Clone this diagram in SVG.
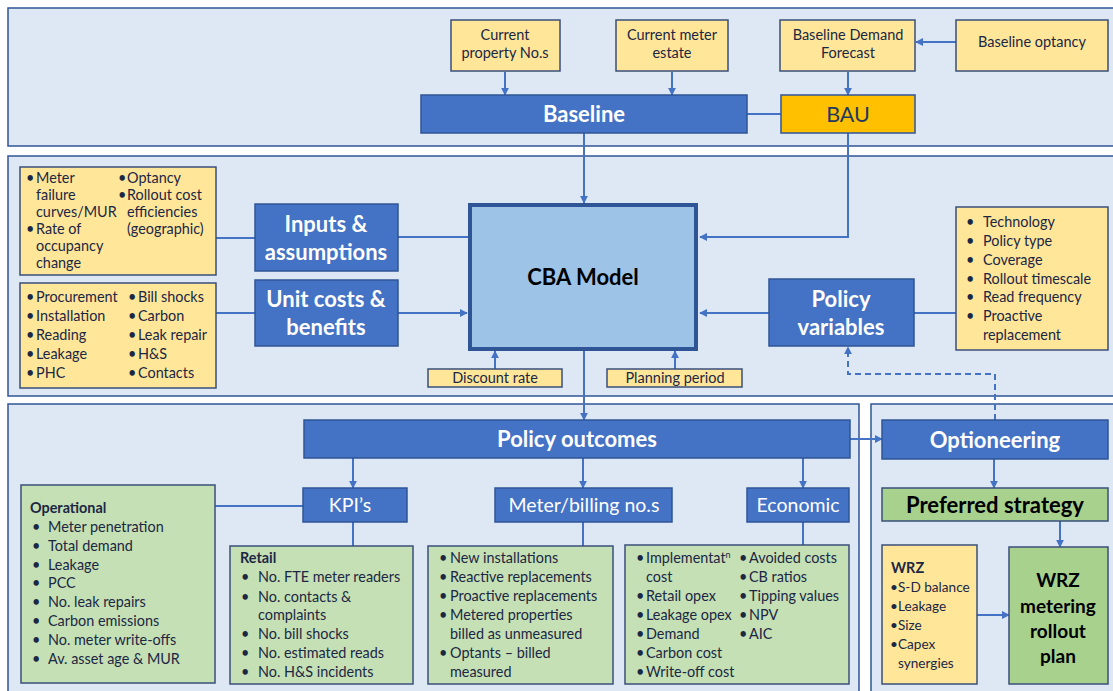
<svg xmlns="http://www.w3.org/2000/svg" width="1113" height="691" viewBox="0 0 1113 691">
<defs>
<marker id="ah" viewBox="0 0 10 10" refX="9" refY="5" markerWidth="4" markerHeight="4" orient="auto-start-reverse" markerUnits="strokeWidth">
<path d="M0,0 L10,5 L0,10 z" fill="#4472C4"/>
</marker>
</defs>
<style>
.panel{fill:#DEE8F4;stroke:#2F5597;stroke-width:1.5}
.yel{fill:#FFE699;stroke:#3A4F7A;stroke-width:1.5}
.blue{fill:#4472C4;stroke:#2F5597;stroke-width:1.5}
.grn{fill:#C5E0B4;stroke:#3A4F7A;stroke-width:1.5}
.grn2{fill:#A9D18E;stroke:#3A4F7A;stroke-width:1.5}
text{font-family:Lato,"Liberation Sans",sans-serif;fill:#1C2744}
.s{font-size:14.5px}
.m{font-size:14.4px}
.c{text-anchor:middle}
.wb{fill:#fff;font-weight:bold;font-size:22px;text-anchor:middle}
.wn{fill:#fff;font-size:19.5px;text-anchor:middle}
.b{font-weight:bold}
.conn line,.conn polyline{stroke:#4472C4;stroke-width:2;fill:none}
.arr{marker-end:url(#ah)}
.dash{stroke-dasharray:6,4}
</style>

<g id="panels">
<rect class="panel" x="8" y="8" width="1115" height="138"/>
<rect class="panel" x="8" y="156" width="1115" height="240"/>
<rect class="panel" x="8" y="404" width="851" height="300"/>
<rect class="panel" x="871" y="404" width="250" height="300"/>
</g>

<g class="conn" id="connectors">
<line class="arr" x1="505" y1="72" x2="505" y2="95"/>
<line class="arr" x1="672" y1="72" x2="672" y2="95"/>
<line class="arr" x1="848" y1="72" x2="848" y2="95"/>
<line class="arr" x1="956" y1="42" x2="916" y2="42"/>
<line x1="747" y1="114" x2="781" y2="114"/>
<line class="arr" x1="584" y1="133" x2="584" y2="203"/>
<polyline class="arr" points="848,133 848,237 700,237"/>
<line x1="216" y1="238" x2="255" y2="238"/>
<line x1="398" y1="237" x2="468" y2="237"/>
<line x1="216" y1="313" x2="255" y2="313"/>
<line class="arr" x1="398" y1="313" x2="467" y2="313"/>
<line x1="914" y1="313" x2="956" y2="313"/>
<line class="arr" x1="769" y1="313" x2="700" y2="313"/>
<line class="arr" x1="495" y1="369" x2="495" y2="351"/>
<line class="arr" x1="675" y1="369" x2="675" y2="351"/>
<line class="arr" x1="584" y1="351" x2="584" y2="420"/>
<polyline class="arr dash" points="995,420 995,374 848,374 848,347"/>
<line class="arr" x1="850" y1="439" x2="882" y2="439"/>
<line class="arr" x1="353" y1="458" x2="353" y2="488"/>
<line class="arr" x1="583" y1="458" x2="583" y2="488"/>
<line class="arr" x1="803" y1="458" x2="803" y2="488"/>
<line x1="215" y1="506" x2="303" y2="506"/>
<line x1="353" y1="522" x2="353" y2="546"/>
<line x1="583" y1="522" x2="583" y2="546"/>
<line x1="803" y1="522" x2="803" y2="545"/>
<line class="arr" x1="994" y1="459" x2="994" y2="488"/>
<line class="arr" x1="1060" y1="521" x2="1060" y2="547"/>
<line class="arr" x1="977" y1="615" x2="1009" y2="615"/>
</g>

<g id="current-property">
<rect class="yel" x="451" y="20" width="109" height="51"/>
<text class="s c" x="505" y="40">Current</text>
<text class="s c" x="505" y="58">property No.s</text>
</g>
<g id="current-meter">
<rect class="yel" x="616" y="20" width="112" height="51"/>
<text class="s c" x="672" y="40">Current meter</text>
<text class="s c" x="672" y="58">estate</text>
</g>
<g id="baseline-demand">
<rect class="yel" x="780" y="20" width="135" height="51"/>
<text class="s c" x="848" y="40">Baseline Demand</text>
<text class="s c" x="848" y="58">Forecast</text>
</g>
<g id="baseline-optancy">
<rect class="yel" x="956" y="20" width="152" height="51"/>
<text class="s c" x="1032" y="47">Baseline optancy</text>
</g>
<g id="baseline">
<rect class="blue" x="421" y="95" width="326" height="38"/>
<text class="wb" x="584" y="122">Baseline</text>
</g>
<g id="bau">
<rect fill="#FFC000" stroke="#2F5597" stroke-width="1.5" x="781" y="95" width="134" height="38"/>
<text class="c" x="848" y="122" style="font-size:21.5px;fill:#1F3864">BAU</text>
</g>

<g id="inputs-list">
<rect class="yel" x="20" y="167" width="196" height="108"/>
<text class="m"><tspan x="26" y="183">•</tspan><tspan x="36" y="183">Meter</tspan><tspan x="36" y="200">failure</tspan><tspan x="36" y="217">curves/MUR</tspan><tspan x="26" y="234">•</tspan><tspan x="36" y="234">Rate of</tspan><tspan x="36" y="251">occupancy</tspan><tspan x="36" y="268">change</tspan></text>
<text class="m"><tspan x="118" y="183">•</tspan><tspan x="127" y="183">Optancy</tspan><tspan x="118" y="200">•</tspan><tspan x="127" y="200">Rollout cost</tspan><tspan x="127" y="217">efficiencies</tspan><tspan x="127" y="234">(geographic)</tspan></text>
</g>
<g id="inputs">
<rect class="blue" x="255" y="204" width="143" height="67"/>
<text class="wb" x="326" y="232">Inputs &amp;</text>
<text class="wb" x="326" y="260">assumptions</text>
</g>
<g id="unitcosts-list">
<rect class="yel" x="20" y="283" width="196" height="105"/>
<text class="m"><tspan x="26" y="302">•</tspan><tspan x="36" y="302">Procurement</tspan><tspan x="26" y="321">•</tspan><tspan x="36" y="321">Installation</tspan><tspan x="26" y="340">•</tspan><tspan x="36" y="340">Reading</tspan><tspan x="26" y="359">•</tspan><tspan x="36" y="359">Leakage</tspan><tspan x="26" y="378">•</tspan><tspan x="36" y="378">PHC</tspan></text>
<text class="m"><tspan x="128" y="302">•</tspan><tspan x="138" y="302">Bill shocks</tspan><tspan x="128" y="321">•</tspan><tspan x="138" y="321">Carbon</tspan><tspan x="128" y="340">•</tspan><tspan x="138" y="340">Leak repair</tspan><tspan x="128" y="359">•</tspan><tspan x="138" y="359">H&amp;S</tspan><tspan x="128" y="378">•</tspan><tspan x="138" y="378">Contacts</tspan></text>
</g>
<g id="unitcosts">
<rect class="blue" x="255" y="280" width="143" height="66"/>
<text class="wb" x="326" y="307">Unit costs &amp;</text>
<text class="wb" x="326" y="335">benefits</text>
</g>

<g id="cba">
<rect fill="#9DC3E6" stroke="#2F5597" stroke-width="4" x="470" y="205" width="226" height="144"/>
<text class="c b" x="583" y="285" style="font-size:22px;fill:#000">CBA Model</text>
</g>
<g id="discount">
<rect class="yel" x="428" y="369" width="134" height="18"/>
<text class="s c" x="495" y="383">Discount rate</text>
</g>
<g id="planning">
<rect class="yel" x="607" y="369" width="135" height="18"/>
<text class="s c" x="675" y="383">Planning period</text>
</g>

<g id="policy-variables">
<rect class="blue" x="769" y="279" width="145" height="67"/>
<text class="wb" x="841" y="307">Policy</text>
<text class="wb" x="841" y="335">variables</text>
</g>
<g id="policy-list">
<rect class="yel" x="956" y="207" width="152" height="143"/>
<text class="m"><tspan x="966" y="227">•</tspan><tspan x="983" y="227">Technology</tspan><tspan x="966" y="246">•</tspan><tspan x="983" y="246">Policy type</tspan><tspan x="966" y="265">•</tspan><tspan x="983" y="265">Coverage</tspan><tspan x="966" y="284">•</tspan><tspan x="983" y="284">Rollout timescale</tspan><tspan x="966" y="302">•</tspan><tspan x="983" y="302">Read frequency</tspan><tspan x="966" y="321">•</tspan><tspan x="983" y="321">Proactive</tspan><tspan x="983" y="340">replacement</tspan></text>
</g>

<g id="policy-outcomes">
<rect class="blue" x="304" y="420" width="546" height="38"/>
<text class="wb" x="577" y="447">Policy outcomes</text>
</g>
<g id="kpis">
<rect class="blue" x="303" y="488" width="104" height="34"/>
<text class="wn" x="350" y="512">KPI’s</text>
</g>
<g id="meter-billing">
<rect class="blue" x="495" y="488" width="177" height="34"/>
<text class="wn" x="584" y="512">Meter/billing no.s</text>
</g>
<g id="economic">
<rect class="blue" x="747" y="488" width="102" height="34"/>
<text class="wn" x="798" y="512">Economic</text>
</g>

<g id="operational">
<rect class="grn" x="21" y="485" width="194" height="198"/>
<text class="m b" x="30" y="513">Operational</text>
<text class="m"><tspan x="32" y="532">•</tspan><tspan x="48" y="532">Meter penetration</tspan><tspan x="32" y="551">•</tspan><tspan x="48" y="551">Total demand</tspan><tspan x="32" y="570">•</tspan><tspan x="48" y="570">Leakage</tspan><tspan x="32" y="588">•</tspan><tspan x="48" y="588">PCC</tspan><tspan x="32" y="607">•</tspan><tspan x="48" y="607">No. leak repairs</tspan><tspan x="32" y="626">•</tspan><tspan x="48" y="626">Carbon emissions</tspan><tspan x="32" y="645">•</tspan><tspan x="48" y="645">No. meter write-offs</tspan><tspan x="32" y="664">•</tspan><tspan x="48" y="664">Av. asset age &amp; MUR</tspan></text>
</g>
<g id="retail">
<rect class="grn" x="230" y="546" width="183" height="138"/>
<text class="m b" x="240" y="563">Retail</text>
<text class="m"><tspan x="241" y="582">•</tspan><tspan x="258" y="582">No. FTE meter readers</tspan><tspan x="241" y="602">•</tspan><tspan x="258" y="602">No. contacts &amp;</tspan><tspan x="258" y="620">complaints</tspan><tspan x="241" y="639">•</tspan><tspan x="258" y="639">No. bill shocks</tspan><tspan x="241" y="658">•</tspan><tspan x="258" y="658">No. estimated reads</tspan><tspan x="241" y="677">•</tspan><tspan x="258" y="677">No. H&amp;S incidents</tspan></text>
</g>
<g id="meter-list">
<rect class="grn" x="428" y="546" width="185" height="138"/>
<text class="m"><tspan x="439" y="563">•</tspan><tspan x="450" y="563">New installations</tspan><tspan x="439" y="582">•</tspan><tspan x="450" y="582">Reactive replacements</tspan><tspan x="439" y="601">•</tspan><tspan x="450" y="601">Proactive replacements</tspan><tspan x="439" y="620">•</tspan><tspan x="450" y="620">Metered properties</tspan><tspan x="450" y="639">billed as unmeasured</tspan><tspan x="439" y="658">•</tspan><tspan x="450" y="658">Optants – billed</tspan><tspan x="450" y="677">measured</tspan></text>
</g>
<g id="economic-list">
<rect class="grn" x="625" y="545" width="224" height="139"/>
<text class="m"><tspan x="636" y="563">•</tspan><tspan x="646" y="563">Implementat<tspan dy="-5" style="font-size:9px">n</tspan></tspan><tspan x="646" y="582">cost</tspan><tspan x="636" y="601">•</tspan><tspan x="646" y="601">Retail opex</tspan><tspan x="636" y="620">•</tspan><tspan x="646" y="620">Leakage opex</tspan><tspan x="636" y="639">•</tspan><tspan x="646" y="639">Demand</tspan><tspan x="636" y="658">•</tspan><tspan x="646" y="658">Carbon cost</tspan><tspan x="636" y="677">•</tspan><tspan x="646" y="677">Write-off cost</tspan></text>
<text class="m"><tspan x="739" y="563">•</tspan><tspan x="749" y="563">Avoided costs</tspan><tspan x="739" y="582">•</tspan><tspan x="749" y="582">CB ratios</tspan><tspan x="739" y="601">•</tspan><tspan x="749" y="601">Tipping values</tspan><tspan x="739" y="620">•</tspan><tspan x="749" y="620">NPV</tspan><tspan x="739" y="639">•</tspan><tspan x="749" y="639">AIC</tspan></text>
</g>

<g id="optioneering">
<rect class="blue" x="882" y="420" width="226" height="39"/>
<text class="wb" x="995" y="448">Optioneering</text>
</g>
<g id="preferred">
<rect class="grn2" x="882" y="488" width="226" height="33"/>
<text class="c b" x="995" y="513" style="font-size:22px;fill:#000">Preferred strategy</text>
</g>
<g id="wrz">
<rect class="yel" x="882" y="545" width="95" height="139"/>
<text class="m b" x="891" y="573">WRZ</text>
<text style="font-size:13.6px"><tspan x="890" y="592">•</tspan><tspan x="898" y="592">S-D balance</tspan><tspan x="890" y="611">•</tspan><tspan x="898" y="611">Leakage</tspan><tspan x="890" y="630">•</tspan><tspan x="898" y="630">Size</tspan><tspan x="890" y="649">•</tspan><tspan x="898" y="649">Capex</tspan><tspan x="898" y="668">synergies</tspan></text>
</g>
<g id="wrz-plan">
<rect class="grn2" x="1009" y="547" width="99" height="137"/>
<text class="c b" x="1058" y="587" style="font-size:19px;fill:#000">WRZ</text>
<text class="c b" x="1058" y="613" style="font-size:19px;fill:#000">metering</text>
<text class="c b" x="1058" y="638" style="font-size:19px;fill:#000">rollout</text>
<text class="c b" x="1058" y="663" style="font-size:19px;fill:#000">plan</text>
</g>
</svg>
